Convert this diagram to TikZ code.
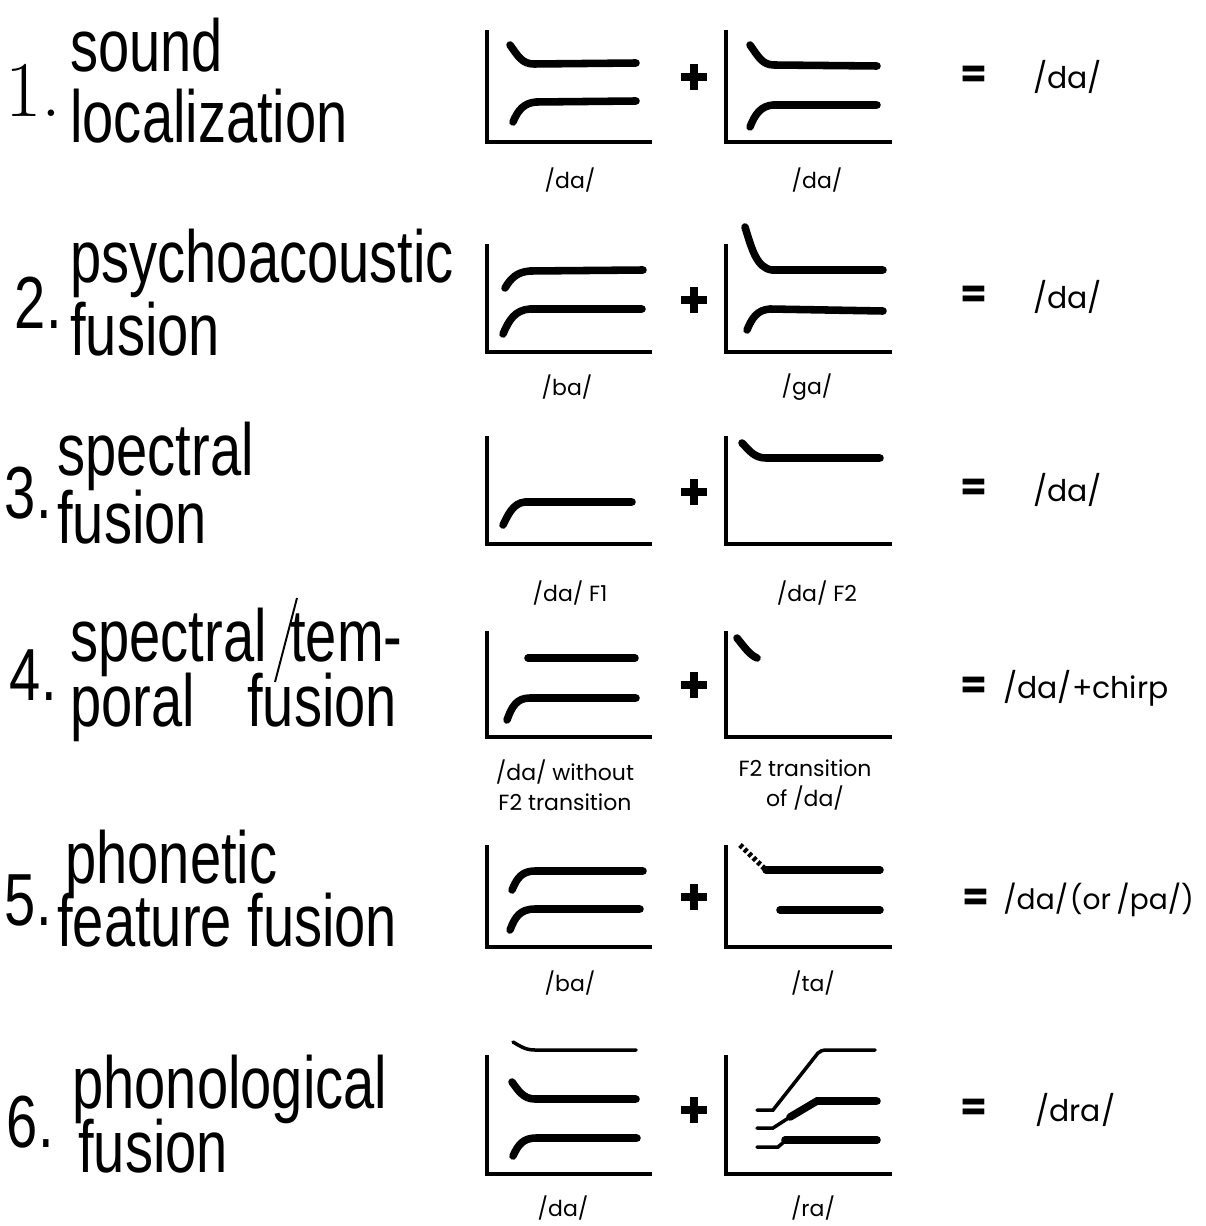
\documentclass[tikz,border=0pt]{standalone}
\usepackage{fontspec}
\newfontfamily\condsans[FakeStretch=0.76]{Liberation Sans}
\newfontfamily\gothic{Poppins}
\usepackage{tikz}

\begin{document}
\begin{tikzpicture}[x=0.02cm,y=-0.02cm,
  term/.style={anchor=base west,inner sep=0,font=\condsans\fontsize{42}{46}\selectfont},
  num/.style={anchor=base east,inner sep=0,font=\condsans\fontsize{42}{46}\selectfont},
  lab/.style={inner sep=0,align=center,font=\gothic\fontsize{12.5}{17}\selectfont},
  res/.style={anchor=west,inner sep=0,font=\gothic\fontsize{17}{20}\selectfont},
  eq/.style={inner sep=0,font=\gothic\bfseries\fontsize{22}{24}\selectfont},
  axis/.style={line width=1.8pt},
  formant/.style={line width=4.3pt,line cap=round},
  thinformant/.style={line width=2pt,line cap=round}]
\useasboundingbox[fill=white] (0,0) rectangle (1205,1226);

% names of the fusions
\node[num,font=\fontsize{45}{50}\selectfont] (n1) at (62,117) {1.};
\node[term] (t1a) at (70,72) {sound};
\node[term] (t1b) at (70,143) {localization};
\node[num] (n2) at (62,328) {2.};
\node[term] (t2a) at (70,283) {psychoacoustic};
\node[term] (t2b) at (70,355) {fusion};
\node[num] (n3) at (52,518) {3.};
\node[term] (t3a) at (57,475) {spectral};
\node[term] (t3b) at (57,543) {fusion};
\node[num] (n4) at (57,700) {4.};
\node[term] (t4a) at (70,661) {spectral};
\node[term] (t4b) at (290,661) {tem-};
\node[term] (t4c) at (70,726) {poral};
\node[term] (t4d) at (247,726) {fusion};
\draw[line width=1.1pt] (297,598) -- (275,682);
\node[num] (n5) at (52,925) {5.};
\node[term] (t5a) at (65,883) {phonetic};
\node[term] (t5b) at (57,946) {feature fusion};
\node[num] (n6) at (54,1147) {6.};
\node[term] (t6a) at (72,1108) {phonological};
\node[term] (t6b) at (78,1172) {fusion};

% frames and plus signs
\foreach \t/\b in {30/142,244/352,436/544,631/737,845/947,1055/1174}{
  \draw[axis] (487,\t) |- (652,\b);
  \draw[axis] (726,\t) |- (892,\b);
}
\foreach \y in {77,300,492,685,897,1110}
  \draw[line width=4.5pt] (681,\y) -- (707,\y) (694,\y-13) -- (694,\y+13);

% 1
\draw[formant] (510,45) .. controls (518,56) and (522,64) .. (534,64) -- (636,63);
\draw[formant] (513,122) .. controls (518,110) and (524,103) .. (536,102) -- (636,101);
\draw[formant] (750,45) .. controls (758,56) and (762,65) .. (774,65) -- (877,66);
\draw[formant] (750,127) .. controls (755,114) and (761,106) .. (773,105) -- (877,105);
% 2
\draw[formant] (505,288) .. controls (511,278) and (517,272) .. (530,271) -- (643,270);
\draw[formant] (503,334) .. controls (509,320) and (515,310) .. (530,309) -- (642,309);
\draw[formant] (745,227) .. controls (752,250) and (757,268) .. (772,270) -- (883,270);
\draw[formant] (747,330) .. controls (752,318) and (757,310) .. (770,309) -- (883,311);
% 3
\draw[formant] (503,525) .. controls (508,515) and (513,503) .. (525,502) -- (632,502);
\draw[formant] (742,443) .. controls (749,450) and (754,458) .. (766,458) -- (880,458);
% 4
\draw[formant] (528,658) -- (635,658);
\draw[formant] (507,720) .. controls (512,706) and (517,698) .. (530,698) -- (636,698);
\draw[formant] (737,638) .. controls (745,648) and (750,655) .. (757,658);
% 5
\draw[formant] (512,890) .. controls (517,878) and (522,871) .. (535,871) -- (643,871);
\draw[formant] (510,930) .. controls (515,917) and (520,909) .. (535,909) -- (640,909);
\draw[line width=3pt,dash pattern=on 2pt off 1.5pt] (740,845) -- (765,869);
\draw[formant] (766,870) -- (880,870);
\draw[formant] (780,910) -- (880,910);
% 6
\draw[thinformant] (513,1042) .. controls (520,1046) and (525,1050) .. (535,1050) -- (636,1050);
\draw[formant] (512,1082) .. controls (518,1090) and (523,1099) .. (535,1099) -- (636,1099);
\draw[formant] (513,1156) .. controls (518,1145) and (523,1138) .. (536,1138) -- (637,1138);
\draw[thinformant] (757,1110) -- (773,1110) -- (818,1053) .. controls (820,1051) and (822,1050) .. (828,1050) -- (875,1050);
\draw[thinformant] (757,1128) -- (773,1128) -- (790,1117);
\draw[formant] (790,1117) -- (817,1101) -- (877,1101);
\draw[thinformant] (757,1147) -- (778,1147) -- (785,1141);
\draw[formant] (785,1140) -- (877,1140);

% sounds under the frames
\node[lab] (l1a) at (570,180) {/da/};
\node[lab] (l1b) at (817,180) {/da/};
\node[lab] (l2a) at (567,387) {/ba/};
\node[lab] (l2b) at (807,387) {/ga/};
\node[lab] (l3a) at (570,593) {/da/ F1};
\node[lab] (l3b) at (817,593) {/da/ F2};
\node[lab] (l4a) at (565,785) {/da/ without\\F2 transition};
\node[lab] (l4b) at (805,785) {F2 transition\\of /da/};
\node[lab] (l5a) at (570,983) {/ba/};
\node[lab] (l5b) at (813,983) {/ta/};
\node[lab] (l6a) at (563,1208) {/da/};
\node[lab] (l6b) at (813,1208) {/ra/};

% what is heard
\node[eq] (e1) at (974,77) {=};
\node[res] (r1) at (1033,77) {/da/};
\node[eq] (e2) at (974,297) {=};
\node[res] (r2) at (1033,297) {/da/};
\node[eq] (e3) at (974,490) {=};
\node[res] (r3) at (1033,490) {/da/};
\node[eq] (e4) at (974,688) {=};
\node[res] (r4) at (1003,688) {/da/+chirp};
\node[eq] (e5) at (976,900) {=};
\node[res,font=\gothic\fontsize{16}{20}\selectfont] (r5) at (1003,900) {/da/\kern1pt(or\kern3pt/pa/)};
\node[eq] (e6) at (974,1110) {=};
\node[res] (r6) at (1035,1110) {/dra/};
\end{tikzpicture}
\end{document}
